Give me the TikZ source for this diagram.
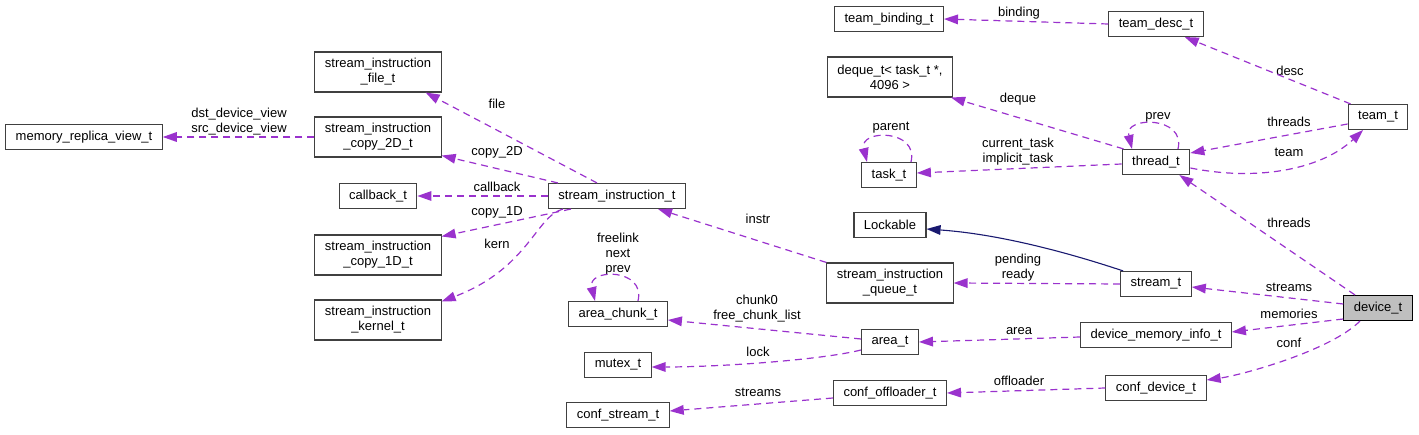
\documentclass[tikz,border=0pt]{standalone}
\usepackage{fontspec}
\setmainfont{Liberation Sans}
\usepackage{tikz}
\usetikzlibrary{arrows.meta, positioning}

\definecolor{edgepurple}{HTML}{9A32CD}
\definecolor{inheritblue}{HTML}{191970}

\begin{document}
\begin{tikzpicture}[
    x=1pt, y=-1pt,
    cls/.style={rectangle, draw=black!75, line width=1.1pt, fill=white, font=\fontsize{13}{15}\selectfont, align=center, inner xsep=10pt, inner ysep=2pt, minimum height=25pt},
    cls2/.style={cls, minimum height=40pt},
    focus/.style={cls, fill=black!25, draw=black},
    lbl/.style={font=\fontsize{13}{15}\selectfont, align=center, inner sep=0pt},
    member/.style={line width=1.2pt, dash pattern=on 7pt off 5pt, draw=edgepurple, -{Triangle[length=14pt, width=10pt, fill=edgepurple, line width=0pt]}},
    inherit/.style={line width=1.1pt, draw=inheritblue, -{Triangle[length=14pt, width=10pt, fill=inheritblue, line width=0pt]}}
]
\useasboundingbox (0,0) rectangle (1419,435);

\node[cls] (mrv) at (84,137) {memory\_replica\_view\_t};

\node[cls2] (sfile) at (378,72) {stream\_instruction\\\_file\_t};
\node[cls2] (sc2) at (378,137) {stream\_instruction\\\_copy\_2D\_t};
\node[cls] (cb) at (378,196) {callback\_t};
\node[cls2] (sc1) at (378,255) {stream\_instruction\\\_copy\_1D\_t};
\node[cls2] (skern) at (378,320) {stream\_instruction\\\_kernel\_t};

\node[cls] (sit) at (617,196) {stream\_instruction\_t};
\node[cls] (ac) at (618,314) {area\_chunk\_t};
\node[cls] (mx) at (618,365) {mutex\_t};
\node[cls] (cs) at (618,415) {conf\_stream\_t};

\node[cls] (tb) at (889,19) {team\_binding\_t};
\node[cls2] (dq) at (890,77) {deque\_t< task\_t *,\\4096 >};
\node[cls] (tk) at (889,175) {task\_t};
\node[cls] (lk) at (890,225) {Lockable};
\node[cls2] (sq) at (890,283) {stream\_instruction\\\_queue\_t};
\node[cls] (at) at (890,342) {area\_t};
\node[cls] (co) at (890,393) {conf\_offloader\_t};

\node[cls] (td) at (1156,24) {team\_desc\_t};
\node[cls] (th) at (1156,162) {thread\_t};
\node[cls] (st) at (1156,284) {stream\_t};
\node[cls] (dmi) at (1156,335) {device\_memory\_info\_t};
\node[cls] (cd) at (1156,388) {conf\_device\_t};

\node[cls] (tm) at (1378,117) {team\_t};
\node[focus] (dv) at (1378,308) {device\_t};

\node[lbl] (lview) at (239,122) {dst\_device\_view\\src\_device\_view};
\node[lbl] (lfile) at (497,104) {file};
\node[lbl] (lcopy2) at (497,152) {copy\_2D};
\node[lbl] (lcb) at (497,187) {callback};
\node[lbl] (lcopy1) at (497,212) {copy\_1D};
\node[lbl] (lkern) at (497,244) {kern};
\node[lbl] (linstr) at (758,219) {instr};
\node[lbl] (lacself) at (618,254) {freelink\\next\\prev};
\node[lbl] (lchunk) at (757,309) {chunk0\\free\_chunk\_list};
\node[lbl] (llock) at (758,352) {lock};
\node[lbl] (lcstreams) at (758,392) {streams};
\node[lbl] (lbinding) at (1019,13) {binding};
\node[lbl] (ldeque) at (1018,99) {deque};
\node[lbl] (lparent) at (891,128) {parent};
\node[lbl] (ltask) at (1018,152) {current\_task\\implicit\_task};
\node[lbl] (lprev) at (1158,117) {prev};
\node[lbl] (ldesc) at (1290,71) {desc};
\node[lbl] (lthreads) at (1289,122) {threads};
\node[lbl] (lteam) at (1289,152) {team};
\node[lbl] (ldthreads) at (1289,223) {threads};
\node[lbl] (lpending) at (1018,268) {pending\\ready};
\node[lbl] (lstreams) at (1289,287) {streams};
\node[lbl] (lmemories) at (1289,314) {memories};
\node[lbl] (larea) at (1019,331) {area};
\node[lbl] (lconf) at (1289,343) {conf};
\node[lbl] (loffloader) at (1019,381) {offloader};

\draw[member] (sc2.west) -- (mrv.east);

\draw[member] ([xshift=-20pt]sit.north) -- ([xshift=-16pt]sfile.south east);
\draw[member] ([xshift=10pt]sit.north west) -- ([yshift=2pt]sc2.south east);
\draw[member] (sit.west) -- (cb.east);
\draw[member] ([xshift=23pt]sit.south west) -- ([yshift=-2pt]sc1.north east);
\draw[member] ([xshift=15pt]sit.south west) .. controls +(-27,7) and +(87,-33) .. ([yshift=-2pt]skern.north east);

\draw[member] (sq.north west) -- ([xshift=-28pt]sit.south east);
\draw[member] ([xshift=20pt]ac.north) .. controls +(8,-33) and +(-8,-33) .. ([xshift=-23pt]ac.north);
\draw[member] ([yshift=3pt]at.west) -- ([yshift=-6pt]ac.east);
\draw[member] ([yshift=-8pt]at.west) .. controls +(-40,10) and +(68,0) .. ([yshift=-2pt]mx.east);
\draw[member] ([yshift=-5pt]co.west) -- ([yshift=4pt]cs.east);

\draw[member] (td.west) -- (tb.east);
\draw[member] ([xshift=2pt]th.north west) -- ([xshift=-2pt]dq.south east);
\draw[member] ([xshift=22pt]tk.north) .. controls +(8,-33) and +(-8,-33) .. ([xshift=-22pt]tk.north);
\draw[member] ([yshift=-2pt]th.west) -- ([yshift=2pt]tk.east);
\draw[member] ([xshift=22pt]th.north) .. controls +(8,-33) and +(-8,-33) .. ([xshift=-24pt]th.north);
\draw[member] ([yshift=-7pt]tm.west) -- ([yshift=9pt]th.east);
\draw[member] ([yshift=-6pt]th.east) .. controls +(70,14) and +(-40,38) .. ([xshift=-15pt]tm.south);
\draw[member] ([xshift=3pt]tm.north west) -- ([xshift=-19pt]td.south east);

\draw[member] ([xshift=-23pt]dv.north) -- ([xshift=-11pt]th.south east);
\draw[inherit] ([xshift=3pt]st.north west) .. controls +(-60,-20) and +(70,5) .. ([yshift=-4pt]lk.east);
\draw[member] (st.west) -- (sq.east);
\draw[member] ([yshift=4pt]dv.west) -- ([yshift=-3pt]st.east);
\draw[member] ([yshift=-11pt]dv.west) -- ([yshift=3pt]dmi.east);
\draw[member] ([yshift=-2pt]dmi.west) -- (at.east);
\draw[member] ([xshift=-18pt]dv.south) .. controls +(-30,30) and +(35,-5) .. ([yshift=8pt]cd.east);
\draw[member] (cd.west) -- (co.east);

\end{tikzpicture}
\end{document}
